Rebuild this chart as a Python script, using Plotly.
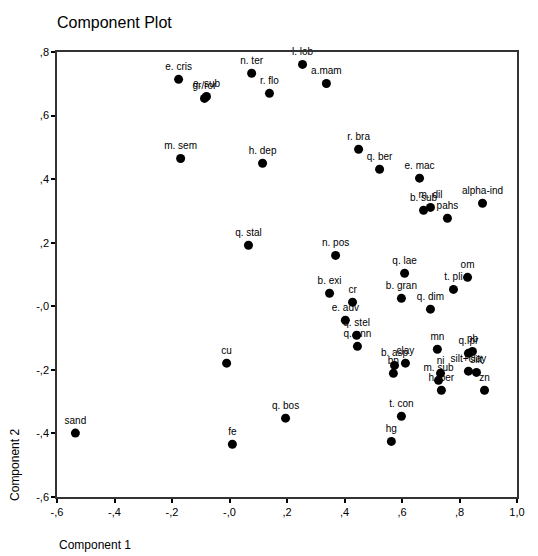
import plotly.graph_objects as go

labels = ["sand", "e. cris", "e. sub", "gr/ror", "n. ter", "l. lob", "a.mam", "r. flo",
          "m. sem", "h. dep", "r. bra", "q. ber", "e. mac", "b. sub", "m. dil", "pahs",
          "alpha-ind", "q. stal", "n. pos", "q. lae", "om", "t. pli", "b. exi", "cr",
          "b. gran", "q. dim", "e. adv", "q. stel", "q. ann", "mn", "q. pr", "pb",
          "b. asp", "clay", "bp", "ni", "m. sub", "h. ber", "silt+clay", "silt", "zn",
          "t. con", "hg", "cu", "fe", "q. bos"]
comp1 = [-0.536, -0.177, -0.080, -0.087, 0.077, 0.254, 0.337, 0.139,
         -0.170, 0.115, 0.449, 0.522, 0.661, 0.675, 0.699, 0.758,
         0.880, 0.066, 0.369, 0.609, 0.828, 0.779, 0.348, 0.428,
         0.598, 0.699, 0.403, 0.442, 0.445, 0.723, 0.831, 0.845,
         0.574, 0.612, 0.570, 0.734, 0.727, 0.737, 0.831, 0.859, 0.887,
         0.598, 0.563, -0.010, 0.010, 0.195]
comp2 = [-0.399, 0.714, 0.660, 0.654, 0.733, 0.761, 0.701, 0.670,
         0.465, 0.450, 0.494, 0.431, 0.403, 0.302, 0.311, 0.277,
         0.324, 0.192, 0.160, 0.104, 0.091, 0.053, 0.041, 0.013,
         0.025, -0.009, -0.044, -0.091, -0.126, -0.135, -0.148, -0.142,
         -0.186, -0.179, -0.211, -0.211, -0.233, -0.264, -0.204, -0.208, -0.264,
         -0.346, -0.425, -0.179, -0.434, -0.352]

xtick_vals = [-0.6, -0.4, -0.2, 0.0, 0.2, 0.4, 0.6, 0.8, 1.0]
xtick_text = ["-,6", "-,4", "-,2", "-,0", ",2", ",4", ",6", ",8", "1,0"]
ytick_vals = [-0.6, -0.4, -0.2, 0.0, 0.2, 0.4, 0.6, 0.8]
ytick_text = ["-,6", "-,4", "-,2", "-,0", ",2", ",4", ",6", ",8"]

font_family = "Liberation Sans, Arial, sans-serif"

W, H = 530, 548
ML, MT, PW, PH = 49, 44, 460, 445

fig = go.Figure()
fig.add_trace(go.Scatter(
    x=comp1, y=comp2, mode="markers+text", text=labels,
    textposition="top center",
    textfont=dict(family=font_family, size=10, color="#000000"),
    marker=dict(size=9, color="#000000", line=dict(width=0)),
    cliponaxis=False, hoverinfo="text",
))

axis_common = dict(
    showgrid=False, zeroline=False, showline=True, linecolor="#333333",
    linewidth=1.5, mirror=True, ticks="outside", ticklen=4, tickwidth=2,
    tickcolor="#000000", tickfont=dict(family=font_family, size=11, color="#000000"),
)

fig.update_layout(
    width=W, height=H,
    margin=dict(l=ML, r=W - ML - PW, t=MT, b=H - MT - PH),
    paper_bgcolor="#ffffff", plot_bgcolor="#ffffff",
    showlegend=False,
    title=dict(text="Component Plot", x=ML / W, xanchor="left",
               y=1 - 14 / H, yanchor="middle", yref="container",
               font=dict(family=font_family, size=16, color="#000000")),
    xaxis=dict(range=[-0.6, 1.0], tickvals=xtick_vals, ticktext=xtick_text, **axis_common),
    yaxis=dict(range=[-0.6, 0.8], tickvals=ytick_vals, ticktext=ytick_text, **axis_common),
    annotations=[
        dict(text="Component 1", xref="paper", yref="paper", x=0, y=-0.108,
             xanchor="left", yanchor="middle", showarrow=False,
             font=dict(family=font_family, size=12, color="#000000")),
        dict(text="Component 2", xref="paper", yref="paper", x=-0.0913, y=0.072,
             xanchor="center", yanchor="middle", showarrow=False, textangle=-90,
             font=dict(family=font_family, size=12, color="#000000")),
    ],
)

fig.write_html("out.html")
